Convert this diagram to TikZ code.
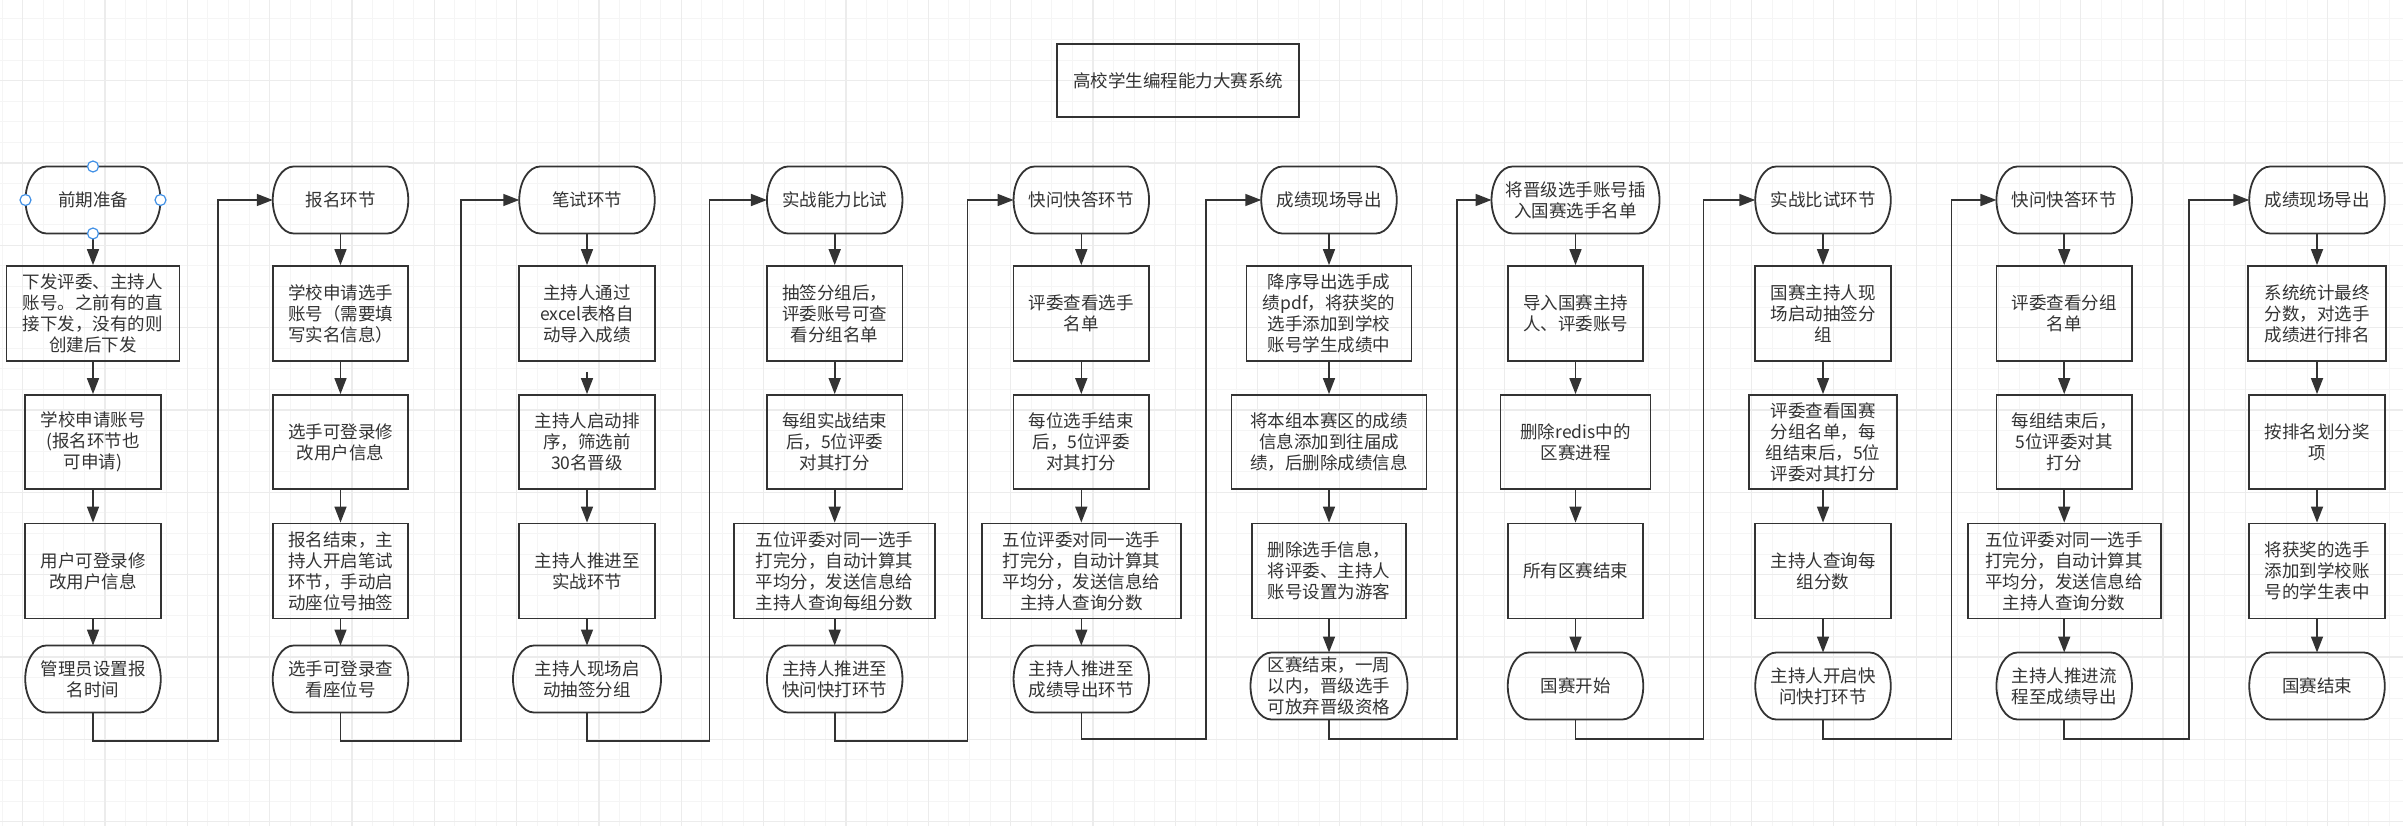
\documentclass[tikz,border=0pt]{standalone}
\usepackage{fontspec}
\newfontfamily\cjk{Noto Sans CJK SC}
\usetikzlibrary{arrows.meta}
\definecolor{ink}{RGB}{51,51,51}
\definecolor{gridlo}{RGB}{245,245,245}
\definecolor{gridhi}{RGB}{236,236,236}
\definecolor{selblue}{RGB}{66,145,230}
\tikzset{box/.style={draw=ink, line width=1.8pt, minimum width=135.5pt, minimum height=95pt, inner sep=0pt, align=center, text=ink, font=\cjk\fontsize{17.5}{21}\selectfont},
  term/.style={box, draw=none, minimum height=67pt, outer sep=0pt},
  edge/.style={ink, line width=1.8pt},
  arr/.style={ink, line width=1.6pt, -{Triangle[length=16pt,width=12pt]}},
  grip/.style={draw=selblue, fill=white, line width=1.2pt}}
% outline of a terminal node
\newcommand\termedge[1]{\draw[edge] ([xshift=21pt]#1.north west) -- ([xshift=-21pt]#1.north east)
  arc[start angle=90,end angle=-90,x radius=21pt,y radius=33.5pt] -- ([xshift=21pt]#1.south west)
  arc[start angle=270,end angle=90,x radius=21pt,y radius=33.5pt] -- cycle;}

\begin{document}
\begin{tikzpicture}[x=1pt,y=-1pt]
   \useasboundingbox (0,0) rectangle (2403,826);
   \fill[white] (0,0) rectangle (2403,826);
   % grid
   \foreach \i in {0,...,116} \draw[gridlo, line width=1pt] ({2.15+20.58*\i},0) -- ({2.15+20.58*\i},826);
   \foreach \j in {0,...,40} \draw[gridlo, line width=1pt] (0,{-1.6+20.58*\j}) -- (2403,{-1.6+20.58*\j});
   \foreach \i in {0,...,28} \draw[gridhi, line width=1.2pt] ({22.73+82.32*\i},0) -- ({22.73+82.32*\i},826);
   \foreach \j in {0,...,9} \draw[gridhi, line width=1.2pt] (0,{80.7+82.32*\j}) -- (2403,{80.7+82.32*\j});

   \node[box, minimum width=242pt, minimum height=73pt] (title) at (1178,80.7) {高校学生编程能力大赛系统};

   \node[term, minimum width=135pt] (s1) at (93,200) {前期准备};
   \node[box, minimum width=173pt] (a1) at (93,313.5) {下发评委、主持人\\账号。之前有的直\\接下发，没有的则\\创建后下发};
   \node[box, minimum height=94pt] (b1) at (93,442) {学校申请账号\\(报名环节也\\可申请)};
   \node[box] (c1) at (93,571) {用户可登录修\\改用户信息};
   \node[term] (e1) at (93,679) {管理员设置报\\名时间};

   \node[term] (s2) at (340.5,200) {报名环节};
   \node[box] (a2) at (340.5,313.5) {学校申请选手\\账号（需要填\\写实名信息）};
   \node[box, minimum height=94pt] (b2) at (340.5,442) {选手可登录修\\改用户信息};
   \node[box] (c2) at (340.5,571) {报名结束，主\\持人开启笔试\\环节，手动启\\动座位号抽签};
   \node[term] (e2) at (340.5,679) {选手可登录查\\看座位号};

   \node[term] (s3) at (587,200) {笔试环节};
   \node[box] (a3) at (587,313.5) {主持人通过\\excel表格自\\动导入成绩};
   \node[box, minimum height=94pt] (b3) at (587,442) {主持人启动排\\序，筛选前\\30名晋级};
   \node[box] (c3) at (587,571) {主持人推进至\\实战环节};
   \node[term, minimum width=148pt] (e3) at (587,679) {主持人现场启\\动抽签分组};

   \node[term] (s4) at (834.7,200) {实战能力比试};
   \node[box] (a4) at (834.7,313.5) {抽签分组后，\\评委账号可查\\看分组名单};
   \node[box, minimum height=94pt] (b4) at (834.7,442) {每组实战结束\\后，5位评委\\对其打分};
   \node[box, minimum width=201pt] (c4) at (834.7,571) {五位评委对同一选手\\打完分，自动计算其\\平均分，发送信息给\\主持人查询每组分数};
   \node[term] (e4) at (834.7,679) {主持人推进至\\快问快打环节};

   \node[term] (s5) at (1081.3,200) {快问快答环节};
   \node[box] (a5) at (1081.3,313.5) {评委查看选手\\名单};
   \node[box, minimum height=94pt] (b5) at (1081.3,442) {每位选手结束\\后，5位评委\\对其打分};
   \node[box, minimum width=199pt] (c5) at (1081.3,571) {五位评委对同一选手\\打完分，自动计算其\\平均分，发送信息给\\主持人查询分数};
   \node[term] (e5) at (1081.3,679) {主持人推进至\\成绩导出环节};

   \node[term] (s6) at (1329,200) {成绩现场导出};
   \node[box, minimum width=165pt] (a6) at (1329,313.5) {降序导出选手成\\绩pdf，将获奖的\\选手添加到学校\\账号学生成绩中};
   \node[box, minimum width=195pt, minimum height=94pt] (b6) at (1329,442) {将本组本赛区的成绩\\信息添加到往届成\\绩，后删除成绩信息};
   \node[box, minimum width=154pt] (c6) at (1329,571) {删除选手信息，\\将评委、主持人\\账号设置为游客};
   \node[term, minimum width=157pt] (e6) at (1329,686) {区赛结束，一周\\以内，晋级选手\\可放弃晋级资格};

   \node[term, minimum width=168pt] (s7) at (1575.5,200) {将晋级选手账号插\\入国赛选手名单};
   \node[box] (a7) at (1575.5,313.5) {导入国赛主持\\人、评委账号};
   \node[box, minimum width=150pt, minimum height=94pt] (b7) at (1575.5,442) {删除redis中的\\区赛进程};
   \node[box] (c7) at (1575.5,571) {所有区赛结束};
   \node[term] (e7) at (1575.5,686) {国赛开始};

   \node[term] (s8) at (1823,200) {实战比试环节};
   \node[box] (a8) at (1823,313.5) {国赛主持人现\\场启动抽签分\\组};
   \node[box, minimum width=148pt, minimum height=94pt] (b8) at (1823,442) {评委查看国赛\\分组名单，每\\组结束后，5位\\评委对其打分};
   \node[box] (c8) at (1823,571) {主持人查询每\\组分数};
   \node[term] (e8) at (1823,686) {主持人开启快\\问快打环节};

   \node[term] (s9) at (2064.2,200) {快问快答环节};
   \node[box] (a9) at (2064.2,313.5) {评委查看分组\\名单};
   \node[box, minimum height=94pt] (b9) at (2064.2,442) {每组结束后，\\5位评委对其\\打分};
   \node[box, minimum width=193pt] (c9) at (2064.2,571) {五位评委对同一选手\\打完分，自动计算其\\平均分，发送信息给\\主持人查询分数};
   \node[term] (e9) at (2064.2,686) {主持人推进流\\程至成绩导出};

   \node[term] (s10) at (2317,200) {成绩现场导出};
   \node[box, minimum width=138pt] (a10) at (2317,313.5) {系统统计最终\\分数，对选手\\成绩进行排名};
   \node[box, minimum height=94pt] (b10) at (2317,442) {按排名划分奖\\项};
   \node[box] (c10) at (2317,571) {将获奖的选手\\添加到学校账\\号的学生表中};
   \node[term] (e10) at (2317,686) {国赛结束};

   \termedge{s1} \termedge{e1} \termedge{s2} \termedge{e2}
   \termedge{s3} \termedge{e3} \termedge{s4} \termedge{e4}
   \termedge{s5} \termedge{e5} \termedge{s6} \termedge{e6}
   \termedge{s7} \termedge{e7} \termedge{s8} \termedge{e8}
   \termedge{s9} \termedge{e9} \termedge{s10} \termedge{e10}

   \draw[arr] (s1) -- (a1); \draw[arr] (a1) -- (b1); \draw[arr] (b1) -- (c1); \draw[arr] (c1) -- (e1);
   \draw[arr] (s2) -- (a2); \draw[arr] (a2) -- (b2); \draw[arr] (b2) -- (c2); \draw[arr] (c2) -- (e2);
   \draw[arr] (s3) -- (a3); \draw[arr, shorten <=10pt] (a3) -- (b3); \draw[arr] (b3) -- (c3); \draw[arr] (c3) -- (e3);
   \draw[arr] (s4) -- (a4); \draw[arr] (a4) -- (b4); \draw[arr] (b4) -- (c4); \draw[arr] (c4) -- (e4);
   \draw[arr] (s5) -- (a5); \draw[arr] (a5) -- (b5); \draw[arr] (b5) -- (c5); \draw[arr] (c5) -- (e5);
   \draw[arr] (s6) -- (a6); \draw[arr] (a6) -- (b6); \draw[arr] (b6) -- (c6); \draw[arr] (c6) -- (e6);
   \draw[arr] (s7) -- (a7); \draw[arr] (a7) -- (b7); \draw[arr] (b7) -- (c7); \draw[arr] (c7) -- (e7);
   \draw[arr] (s8) -- (a8); \draw[arr] (a8) -- (b8); \draw[arr] (b8) -- (c8); \draw[arr] (c8) -- (e8);
   \draw[arr] (s9) -- (a9); \draw[arr] (a9) -- (b9); \draw[arr] (b9) -- (c9); \draw[arr] (c9) -- (e9);
   \draw[arr] (s10) -- (a10); \draw[arr] (a10) -- (b10); \draw[arr] (b10) -- (c10); \draw[arr] (c10) -- (e10);

   % links between the columns
   \coordinate (k1) at (218,741);
   \coordinate (k2) at (460.7,741);
   \coordinate (k3) at (709.3,741);
   \coordinate (k4) at (967.3,741);
   \coordinate (k5) at (1205.7,739);
   \coordinate (k6) at (1457,739);
   \coordinate (k7) at (1703.3,739);
   \coordinate (k8) at (1951.5,739);
   \coordinate (k9) at (2189,739);
   \draw[arr] (e1) |- (k1) |- (s2);
   \draw[arr] (e2) |- (k2) |- (s3);
   \draw[arr] (e3) |- (k3) |- (s4);
   \draw[arr] (e4) |- (k4) |- (s5);
   \draw[arr] (e5) |- (k5) |- (s6);
   \draw[arr] (e6) |- (k6) |- (s7);
   \draw[arr] (e7) |- (k7) |- (s8);
   \draw[arr] (e8) |- (k8) |- (s9);
   \draw[arr] (e9) |- (k9) |- (s10);

   \draw[grip] (s1.north) circle[radius=5.5pt];
   \draw[grip] (s1.south) circle[radius=5.5pt];
   \draw[grip] (s1.west) circle[radius=5.5pt];
   \draw[grip] (s1.east) circle[radius=5.5pt];
\end{tikzpicture}
\end{document}
